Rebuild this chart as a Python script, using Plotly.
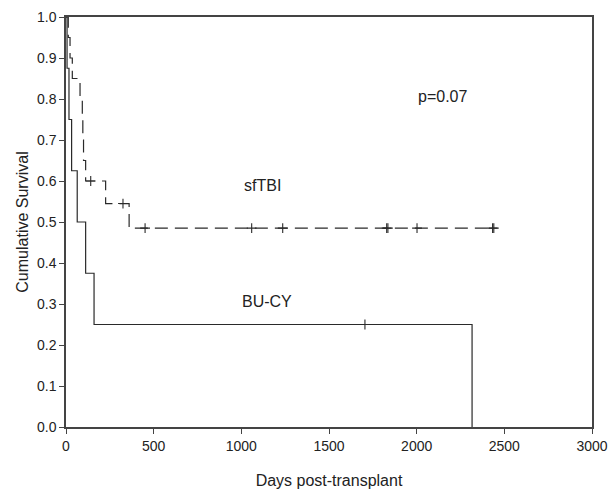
import plotly.graph_objects as go

# BU-CY (solid) Kaplan-Meier steps
bucy_days = [0, 6, 17, 32, 64, 112, 160, 2316]
bucy_surv = [1.0, 0.875, 0.75, 0.625, 0.5, 0.375, 0.25, 0.0]
bucy_cens_days = [1705]
bucy_cens_surv = [0.25]

# sfTBI (dashed) Kaplan-Meier steps
sftbi_days = [0, 13, 23, 36, 80, 93, 96, 100, 112, 226, 360, 2440]
sftbi_surv = [1.0, 0.95, 0.9, 0.85, 0.8, 0.75, 0.7, 0.65, 0.6, 0.545, 0.485, 0.485]
sftbi_cens_days = [141, 325, 451, 1059, 1236, 1829, 1836, 2002, 2433, 2440]
sftbi_cens_surv = [0.6, 0.545, 0.485, 0.485, 0.485, 0.485, 0.485, 0.485, 0.485, 0.485]

x_ticks = [0, 500, 1000, 1500, 2000, 2500, 3000]
y_ticks = [0.0, 0.1, 0.2, 0.3, 0.4, 0.5, 0.6, 0.7, 0.8, 0.9, 1.0]

line_col = "#2a2a2a"
font_fam = "Liberation Sans, Arial, sans-serif"

fig = go.Figure()
fig.add_trace(go.Scatter(x=bucy_days, y=bucy_surv, mode="lines", line_shape="hv",
                         line=dict(color=line_col, width=1.2), showlegend=False))
fig.add_trace(go.Scatter(x=sftbi_days, y=sftbi_surv, mode="lines", line_shape="hv",
                         line=dict(color=line_col, width=1.2, dash="13px,7px"), showlegend=False))
fig.add_trace(go.Scatter(x=bucy_cens_days, y=bucy_cens_surv, mode="markers",
                         marker=dict(symbol="cross-thin", size=7, line=dict(color=line_col, width=1.1)),
                         showlegend=False))
fig.add_trace(go.Scatter(x=sftbi_cens_days, y=sftbi_cens_surv, mode="markers",
                         marker=dict(symbol="cross-thin", size=7, line=dict(color=line_col, width=1.1)),
                         showlegend=False))

fig.add_annotation(x=2150, y=0.805, text="p=0.07", showarrow=False,
                   font=dict(size=16, color="#222", family=font_fam))
fig.add_annotation(x=1118, y=0.59, text="sfTBI", showarrow=False,
                   font=dict(size=16, color="#222", family=font_fam))
fig.add_annotation(x=1147, y=0.305, text="BU-CY", showarrow=False,
                   font=dict(size=16, color="#222", family=font_fam))

fig.update_layout(
    width=613, height=490,
    margin=dict(l=66, r=21, t=17, b=63),
    plot_bgcolor="white", paper_bgcolor="white",
    font=dict(family=font_fam, size=14, color="#222"),
)
fig.update_xaxes(range=[0, 3000], tickvals=x_ticks, ticktext=[str(v) for v in x_ticks],
                 ticks="outside", ticklen=5, tickcolor="#444", showgrid=False, zeroline=False,
                 showline=True, linecolor="#444", linewidth=1.5, mirror=True, automargin=False,
                 title=dict(text="Days post-transplant", font=dict(size=16), standoff=22))
fig.update_yaxes(range=[0, 1.0], tickvals=y_ticks, ticktext=[f"{v:.1f}" for v in y_ticks],
                 ticks="outside", ticklen=5, tickcolor="#444", showgrid=False, zeroline=False,
                 showline=True, linecolor="#444", linewidth=1.5, mirror=True, automargin=False,
                 title=dict(text="Cumulative Survival", font=dict(size=16), standoff=4))

fig.write_html("out.html", config={"displayModeBar": False},
               post_script="document.body.style.margin='0';document.body.style.overflow='hidden';")
